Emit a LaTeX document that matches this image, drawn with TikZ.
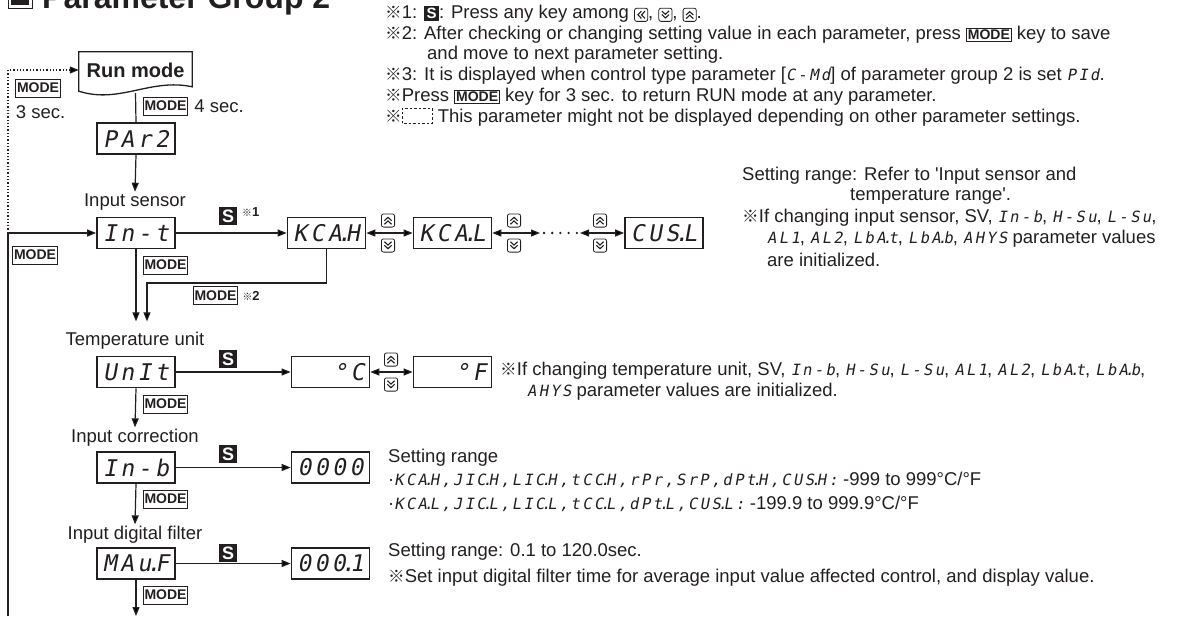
\documentclass[tikz,border=0pt]{standalone}
\usepackage{fontspec}
\setmainfont{Liberation Sans}
\newfontfamily\cjk{Noto Sans CJK JP}[Scale=0.9]
\newfontfamily\segfont{DejaVu Sans Mono}[LetterSpace=15, FakeSlant=0.18]
\usetikzlibrary{positioning,arrows.meta,calc}
\definecolor{ink}{HTML}{231F20}

% little helpers for the key symbols
\newcommand{\refm}{{\cjk ※}}
\newcommand{\sd}{\kern-.2em.\kern-.22em}
\newcommand{\seg}[1]{{\segfont\fontsize{15.5}{15.5}\selectfont #1}}
\newcommand{\modekey}{\tikz[baseline=(mk.base)]\node[draw=ink, line width=0.9pt, inner sep=1.4pt, font=\bfseries\fontsize{14}{14}\selectfont] (mk) {MODE};}
\newcommand{\skey}{\tikz[baseline=(sk.base)]\node[fill=ink, text=white, inner sep=0pt, minimum size=15pt, font=\bfseries\fontsize{15}{15}\selectfont] (sk) {S};}
\newcommand{\chevkey}[1]{\tikz[baseline=-4pt, x=1pt, y=1pt]{%
  \draw[ink, line width=0.8pt, rounded corners=2.2pt] (-6.6,-6.6) rectangle (6.6,6.6);
  \draw[ink, line width=1.1pt, rotate=#1] (-3.6,-3.8) -- (0,-0.4) -- (3.6,-3.8) (-3.6,-0.2) -- (0,3.2) -- (3.6,-0.2);}}
\newcommand{\dashkey}{\tikz[baseline=-3pt, x=1pt, y=1pt]\draw[ink, line width=0.8pt, dash pattern=on 2.5pt off 2pt] (0,-4) rectangle (30,11);}

\begin{document}
\begin{tikzpicture}[x=1pt, y=-1pt,
    every node/.style={text=ink},
    disp/.style={draw=ink, line width=1.7pt, minimum width=78pt, minimum height=31pt, inner sep=0pt, font=\segfont\fontsize{23}{23}\selectfont},
    dispr/.style={disp, text width=68pt, align=right},
    lbl/.style={inner sep=0pt, outer sep=2pt, font=\fontsize{18.5}{20}\selectfont},
    note/.style={anchor=west, inner sep=0pt, align=left, font=\fontsize{18.5}{20.6}\selectfont},
    keymode/.style={draw=ink, line width=0.9pt, inner sep=1.4pt, minimum height=18pt, font=\bfseries\fontsize{14}{14}\selectfont},
    keys/.style={fill=ink, text=white, minimum size=18pt, inner sep=0pt, font=\bfseries\fontsize{18}{18}\selectfont},
    fnote/.style={anchor=west, inner sep=1pt, font=\bfseries\fontsize{13}{13}\selectfont},
    flow/.style={draw=ink, line width=1.2pt},
    arr/.style={flow, -{Triangle[length=9pt,width=7pt]}},
    darr/.style={flow, {Triangle[length=9pt,width=7pt]}-{Triangle[length=9pt,width=7pt]}},
    keypair/.pic={\node[inner sep=0pt] at (0,-12.5) {\chevkey{0}};
                  \node[inner sep=0pt] at (0,12.5) {\chevkey{180}};}]
  \useasboundingbox (0,0) rectangle (1180,616);

  % title
  \node[draw=ink, line width=0.8pt, minimum size=24pt, inner sep=0pt] (tbox) at (20,-4) {};
  \fill[ink] ($(tbox.south west)+(3.5,-3.5)$) rectangle ($(tbox.north east)+(-3.5,3.5)$);
  \node[anchor=base west, inner sep=0pt, font=\bfseries\fontsize{32}{32}\selectfont] (title) at (42,8) {Parameter Group 2};

  % notes on top
  \node[note] (n1) at (385,14) {\refm1: \skey: Press any key among \chevkey{90}, \chevkey{180}, \chevkey{0}.};
  \node[note] (n2) at (385,35) {\refm2: After checking or changing setting value in each parameter, press \modekey{} key to save};
  \node[note] (n2b) at (427,55) {and move to next parameter setting.};
  \node[note] (n3) at (385,76) {\refm3: It is displayed when control type parameter [\seg{C-Md}] of parameter group 2 is set \seg{PId}.};
  \node[note] (n4) at (385,97) {\refm Press \modekey{} key for 3 sec. to return RUN mode at any parameter.};
  \node[note] (n5) at (385,117) {\refm\dashkey{} This parameter might not be displayed depending on other parameter settings.};

  % run mode and group entry
  \node[inner sep=0pt, minimum width=113pt, minimum height=36pt, font=\bfseries\fontsize{20}{20}\selectfont] (run) at (135.5,70) {Run mode};
  \draw[ink, line width=1.3pt] (run.north west) -- (run.north east) -- ($(run.north east)+(0,35)$)
    .. controls +(-42,-9) and +(41,13) .. ($(run.south west)+(0,3)$) -- cycle;
  \node[disp] (par) at (136,138.5) {PAr2};
  \draw[flow] ($(run.south)+(0,5)$) -- (par.north);
  \node[keymode] (mdrun) at (165.5,106) {MODE};
  \node[lbl, anchor=west, xshift=4pt] (sec4) at (mdrun.east) {4 sec.};
  \node[keymode] (mdback) at (38,88) {MODE};
  \node[lbl, anchor=west] (sec3) at (14,112) {3 sec.};
  \node[keymode] (mdloop) at (35,255) {MODE};

  % input sensor
  \node[lbl] (lblsens) at (135,202) {Input sensor};
  \node[disp] (int) at (136,233) {In-t};
  \node[disp] (kcah) at (326.5,233) {KCA\sd H};
  \node[disp] (kcal) at (452.5,233) {KCA\sd L};
  \node[disp] (cusl) at (664,233) {CUS\sd L};
  \coordinate (dotsL) at (540,233);
  \coordinate (dotsR) at (580,233);
  \draw[arr] (par.south) -- (lblsens.north);
  \draw[arr] (int) -- (kcah);
  \draw[darr] (kcah) -- (kcal);
  \draw[darr] (kcal) -- (dotsL);
  \draw[darr] (dotsR) -- (cusl);
  \draw[ink, line width=2.6pt, line cap=round, dash pattern=on 0pt off 8.2pt] ($(dotsL)+(4,0)$) -- ($(dotsR)+(-2.5,0)$);
  \pic at (388,233) {keypair};
  \pic at (514,233) {keypair};
  \pic at (600,233) {keypair};
  \node[keys] (s1) at (228,216) {S};
  \node[fnote] at (241,212) {{\cjk\fontsize{11}{11}\selectfont ※}1};
  \node[keymode] (md1) at (165.5,265) {MODE};
  \node[keymode] (md2) at (215.5,295.5) {MODE};
  \node[fnote, xshift=3pt] at (md2.east) {{\cjk\fontsize{11}{11}\selectfont ※}2};
  \node[note] at (742,176) {Setting range: Refer to \textquotesingle Input sensor and};
  \node[note] at (850,196) {temperature range\textquotesingle.};
  \node[note] at (742,218) {\refm If changing input sensor, SV, \seg{In-b}, \seg{H-Su}, \seg{L-Su},};
  \node[note] at (767,239) {\seg{AL1}, \seg{AL2}, \seg{LbA\sd t}, \seg{LbA\sd b}, \seg{AHYS} parameter values};
  \node[note] at (767,260) {are initialized.};

  % temperature unit
  \coordinate (bend) at (147,283);
  \node[lbl] (lbltemp) at (135,341) {Temperature unit};
  \draw[arr, shorten >=9pt] (int.south) -- (lbltemp.north -| int.south);
  \draw[arr, shorten >=9pt] (kcah.south) |- (bend) -- (bend |- lbltemp.north);
  \node[disp] (unit) at (136,372) {UnIt};
  \node[dispr] (degc) at (330.5,372) {°C};
  \node[dispr] (degf) at (452.5,372) {°F};
  \draw[arr] (unit) -- (degc);
  \draw[darr] (degc) -- (degf);
  \pic at (391,372) {keypair};
  \node[keys] (s2) at (228,359) {S};
  \node[keymode] (md3) at (165.5,404) {MODE};
  \node[note] at (500,371) {\refm If changing temperature unit, SV, \seg{In-b}, \seg{H-Su}, \seg{L-Su}, \seg{AL1}, \seg{AL2}, \seg{LbA\sd t}, \seg{LbA\sd b},};
  \node[note] at (527,392) {\seg{AHYS} parameter values are initialized.};

  % input correction
  \node[lbl] (lblcorr) at (135,438) {Input correction};
  \draw[arr] (unit.south) -- (lblcorr.north);
  \node[disp] (inb) at (136,467.5) {In-b};
  \node[disp] (zero) at (330.5,467.5) {0000};
  \draw[arr] (inb) -- (zero);
  \node[keys] (s3) at (228,454) {S};
  \node[keymode] (md4) at (165.5,499) {MODE};
  \node[note] at (388,458) {Setting range};
  \node[note] at (388,480) {·\seg{KCA\sd H,JIC\sd H,LIC\sd H,tCC\sd H,rPr,SrP,dPt\sd H,CUS\sd H:} -999 to 999°C/°F};
  \node[note] at (388,504) {·\seg{KCA\sd L,JIC\sd L,LIC\sd L,tCC\sd L,dPt\sd L,CUS\sd L:} -199.9 to 999.9°C/°F};

  % input digital filter
  \node[lbl] (lblfilt) at (135,535) {Input digital filter};
  \draw[arr] (inb.south) -- (lblfilt.north);
  \node[disp] (mavf) at (136,563.5) {MAu\sd F};
  \node[disp] (filt) at (330.5,563.5) {000\sd 1};
  \draw[arr] (mavf) -- (filt);
  \node[keys] (s4) at (228,553) {S};
  \node[keymode] (md5) at (165.5,595) {MODE};
  \node[note] at (388,552) {Setting range: 0.1 to 120.0sec.};
  \node[note] at (388,578) {\refm Set input digital filter time for average input value affected control, and display value.};

  % return loop on the left
  \coordinate (loopbot) at (8,616);
  \coordinate (loopmid) at (8,233);
  \draw[arr] (loopbot) |- (int.west);
  \draw[arr, dash pattern=on 1.3pt off 2pt] (loopmid) |- (run.west);
  \draw[arr] (mavf.south) -- (mavf.south |- loopbot);
\end{tikzpicture}
\end{document}
